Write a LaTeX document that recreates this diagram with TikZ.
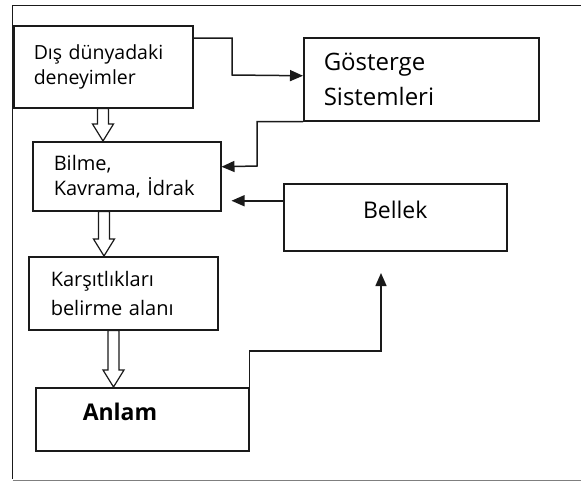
\documentclass[tikz,border=0pt]{standalone}
\usepackage{fontspec}
\setmainfont{Open Sans}
\usetikzlibrary{arrows.meta,calc}
\definecolor{ink}{HTML}{1A1A1A}
\definecolor{rim}{HTML}{7F7F7F}
\tikzset{
  box/.style={draw=ink, line width=1.5pt, anchor=north west, inner ysep=0pt, align=left},
  conn/.style={-{Triangle[length=13pt,width=11pt]}, line width=1.5pt, draw=ink},
  fat/.style={draw=ink, line width=1.2pt, fill=white},
  rimline/.style={line width=1.6pt, draw=ink},
}
\newcommand{\fs}[2]{\fontsize{#1}{#2}\selectfont}
% hollow block arrow at x=#1 from node #2 down to node #3
\newcommand{\fatarrow}[3]{%
  \draw[fat] let \p1=(#2.south), \p2=(#3.north) in
    ({#1pt-5.5pt},\y1) -- ({#1pt-5.5pt},\y2+17pt) -- ({#1pt-10.5pt},\y2+17pt)
    -- (#1pt,\y2) -- ({#1pt+10.5pt},\y2+17pt) -- ({#1pt+5.5pt},\y2+17pt)
    -- ({#1pt+5.5pt},\y1) -- cycle;}

\begin{document}
\begin{tikzpicture}[x=1pt,y=-1pt]
  \useasboundingbox (0,0) rectangle (581,482);
  \draw[rimline] (581,5.5) -- (12.5,5.5) -- (12.5,479);
  \draw[rimline, draw=rim] (12.5,480.5) -- (581,480.5);

  \node[box, minimum width=179pt, minimum height=82pt, text width=139pt, inner xsep=20pt,
    font=\fs{19.5}{25}] (dis) at (13,25) {Dış dünyadaki\\deneyimler};
  \node[box, minimum width=235pt, minimum height=83pt, text width=195pt, inner xsep=20pt,
    font=\fs{24}{35}] (gos) at (303,37) {Gösterge\\Sistemleri};
  \node[box, minimum width=188pt, minimum height=69pt, text width=146pt, inner xsep=21pt,
    font=\fs{20}{25}] (bil) at (32,141) {Bilme,\\Kavrama, İdrak};
  \node[box, minimum width=223pt, minimum height=67pt, align=center, text depth=15pt,
    font=\fs{23}{27}] (bel) at (283,183) {Bellek};
  \node[box, minimum width=189pt, minimum height=73pt, text width=145pt, inner xsep=22pt,
    font=\fs{20}{29}] (kar) at (28,256) {Karşıtlıkları\\belirme alanı};
  \node[box, minimum width=213pt, minimum height=63pt, text width=119pt, inner xsep=47pt,
    text depth=15pt, font=\bfseries\fs{23}{28}] (anl) at (35,387) {Anlam};

  \fatarrow{103}{dis}{bil}
  \fatarrow{104}{bil}{kar}
  \fatarrow{113.5}{kar}{anl}

  \coordinate (disout) at ($(dis.north east)+(0,13)$);
  \draw[conn] (disout) -| (232,75) -- ([yshift=3.5pt]gos.west);
  \draw[conn] (gos.south west) -| (257,166) -- ([yshift=9.5pt]bil.east);
  \coordinate (belout) at ([yshift=16.5pt]bel.west);
  \draw[conn, shorten >=10pt] (belout) -- (belout -| bil.east);
  \coordinate (upend) at (381,273);
  \draw[conn] (anl.south east) |- (381,351) -- (upend);
\end{tikzpicture}
\end{document}
